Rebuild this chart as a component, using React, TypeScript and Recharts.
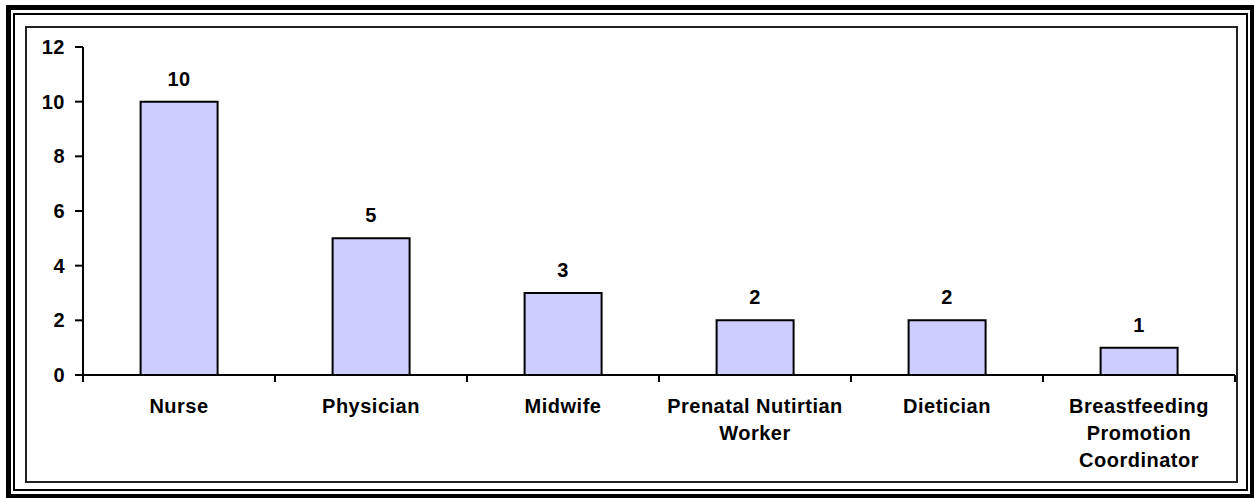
import { BarChart, Bar, XAxis, YAxis, LabelList } from 'recharts'

const categories = [
  'Nurse',
  'Physician',
  'Midwife',
  'Prenatal Nutirtian Worker',
  'Dietician',
  'Breastfeeding Promotion Coordinator',
]
const counts = [10, 5, 3, 2, 2, 1]
const yTicks = [0, 2, 4, 6, 8, 10, 12]

const data = categories.map((name, i) => ({ name, count: counts[i] }))

const font = '"Liberation Sans", Arial, sans-serif'
const FONT_SIZE = 20
const SPACING = 0.5
const textStyle = { fontFamily: font, fontWeight: 700, fontSize: FONT_SIZE, letterSpacing: SPACING, fill: '#000' }

// greedy word wrap using canvas metrics
let ctx: CanvasRenderingContext2D | null = null
function measure(s: string) {
  if (!ctx) {
    ctx = document.createElement('canvas').getContext('2d')
    if (ctx) ctx.font = `bold ${FONT_SIZE}px "Liberation Sans"`
  }
  const w = ctx ? ctx.measureText(s).width : s.length * FONT_SIZE * 0.6
  return w + s.length * SPACING
}
function wrap(label: string, maxWidth: number) {
  const lines: string[] = []
  let cur = ''
  for (const word of label.split(' ')) {
    const next = cur ? cur + ' ' + word : word
    if (cur && measure(next) > maxWidth) {
      lines.push(cur)
      cur = word
    } else {
      cur = next
    }
  }
  if (cur) lines.push(cur)
  return lines
}

const HALF_BAND = 96

function CategoryTick({ x, y, payload, index, visibleTicksCount }: any) {
  const lines = wrap(payload.value, 185)
  const axisY = 375
  const last = index === visibleTicksCount - 1
  return (
    <g>
      <line x1={x - HALF_BAND} x2={x - HALF_BAND} y1={axisY} y2={axisY + 7} stroke="#000" strokeWidth={2} />
      {last && <line x1={x + HALF_BAND} x2={x + HALF_BAND} y1={axisY} y2={axisY + 7} stroke="#000" strokeWidth={2} />}
      <text x={x} y={y} textAnchor="middle" style={textStyle}>
        {lines.map((l, i) => (
          <tspan key={i} x={x} dy={i === 0 ? 14 : 27}>
            {l}
          </tspan>
        ))}
      </text>
    </g>
  )
}

function box(left: number, top: number, width: number, height: number, border: string) {
  return {
    position: 'absolute' as const,
    left,
    top,
    width,
    height,
    border,
    boxSizing: 'border-box' as const,
  }
}

export default function App() {
  return (
    <div style={{ position: 'absolute', left: 0, top: 0, width: 1254, height: 498, background: '#fff', overflow: 'hidden' }}>
      <div style={{ ...box(6, 5, 1248, 493, '5px solid #000'), borderRightWidth: 4, borderBottomWidth: 4 }} />
      <div style={box(13, 13, 1235, 478, '2px solid #000')} />
      <div style={box(25, 26, 1213, 457, '2px solid #222')} />
      <div style={{ position: 'absolute', left: 0, top: 0 }}>
        <BarChart
          width={1254}
          height={498}
          data={data}
          margin={{ top: 47, right: 19, left: 0, bottom: 63 }}
          barCategoryGap="30%"
        >
          <XAxis
            dataKey="name"
            interval={0}
            height={60}
            axisLine={{ stroke: '#000', strokeWidth: 2 }}
            tickLine={false}
            tickSize={6}
            tickMargin={18}
            tick={<CategoryTick />}
          />
          <YAxis
            domain={[0, 12]}
            ticks={yTicks}
            width={83}
            axisLine={{ stroke: '#000', strokeWidth: 2 }}
            tickLine={{ stroke: '#000', strokeWidth: 2 }}
            tickSize={8}
            tickMargin={10}
            tick={textStyle}
          />
          <Bar dataKey="count" fill="#CCCCFF" stroke="#000" strokeWidth={2} isAnimationActive={false}>
            <LabelList dataKey="count" position="top" offset={16} style={textStyle} />
          </Bar>
        </BarChart>
      </div>
    </div>
  )
}
